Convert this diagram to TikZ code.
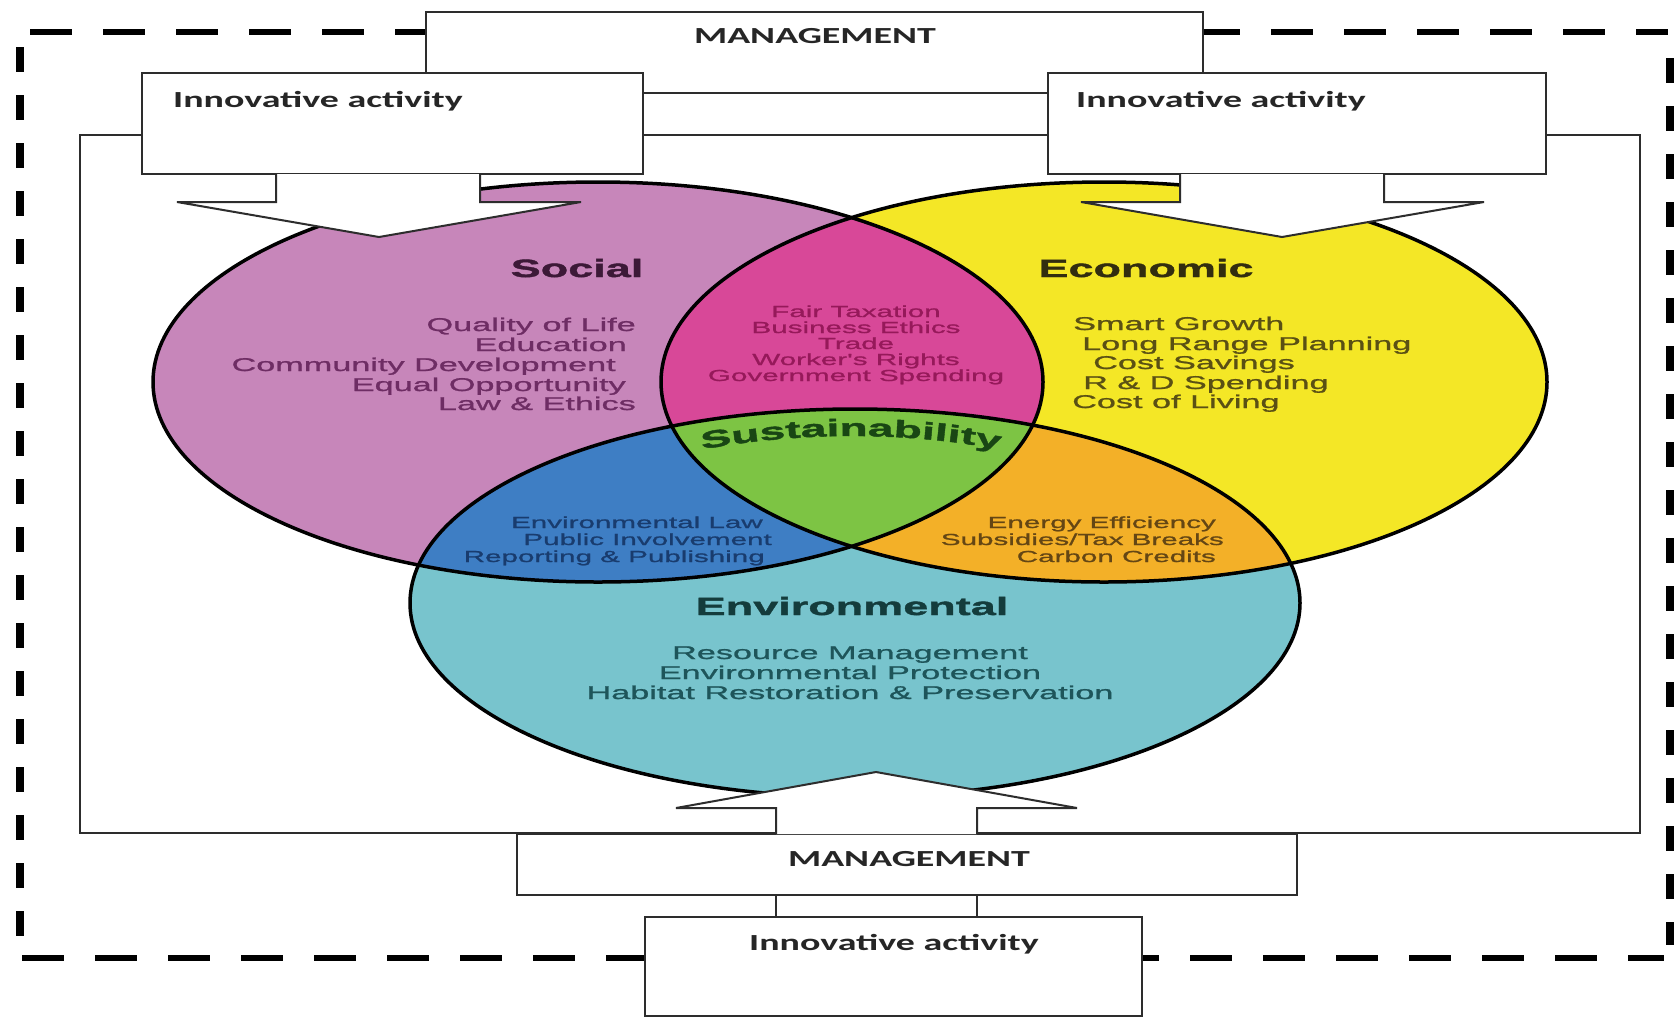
\documentclass[tikz,border=0pt]{standalone}
\usepackage{fontspec}
\usepackage{graphicx}
\usetikzlibrary{decorations.text,calc}
\newfontfamily\boxfont[FakeStretch=1.65]{Carlito}
\newfontfamily\vennfont[FakeStretch=1.85,FakeBold=1.2]{Liberation Sans}
\newfontfamily\titlefont[FakeStretch=1.8,FakeBold=1.5]{Liberation Sans}
\newfontfamily\sustfont[FakeStretch=1.92,FakeBold=1.8]{Liberation Sans}
\definecolor{boxgray}{RGB}{45,45,45}
\definecolor{socialc}{RGB}{199,134,186}
\definecolor{econc}{RGB}{244,231,38}
\definecolor{envc}{RGB}{120,196,205}
\definecolor{magentac}{RGB}{216,72,152}
\definecolor{bluec}{RGB}{62,126,196}
\definecolor{orangec}{RGB}{243,176,40}
\definecolor{greenc}{RGB}{125,196,68}
\definecolor{socT}{RGB}{60,25,55}
\definecolor{socI}{RGB}{110,45,100}
\definecolor{ecoT}{RGB}{50,45,15}
\definecolor{ecoI}{RGB}{90,80,20}
\definecolor{magI}{RGB}{150,25,90}
\definecolor{bluI}{RGB}{25,60,110}
\definecolor{oraI}{RGB}{100,70,20}
\definecolor{envT}{RGB}{20,60,60}
\definecolor{envI}{RGB}{30,85,90}
\definecolor{sustc}{RGB}{25,70,20}
\tikzset{
  box/.style={draw=boxgray, line width=2pt, fill=white, inner sep=0pt, outer sep=0pt, anchor=north west},
  boxlabel/.style={font=\boxfont\bfseries\fontsize{23}{23}\selectfont, text=black!85, inner sep=0pt},
  vtitle/.style={font=\titlefont\bfseries\fontsize{25}{25}\selectfont, inner sep=0pt, anchor=base},
  vitem/.style={font=\vennfont\fontsize{18.5}{18.5}\selectfont, inner sep=0pt},
  vsmall/.style={font=\vennfont\fontsize{16}{16}\selectfont, inner sep=0pt},
  vout/.style={draw=black, line width=3.5pt},
  blockarrow/.style={draw=boxgray, line width=2pt, fill=white, line join=miter},
  hdash/.style={draw=black, line width=5.5pt, dash pattern=on 42pt off 31pt},
  vdash/.style={draw=black, line width=8pt, dash pattern=on 25pt off 23pt},
}
\begin{document}
\begin{tikzpicture}[x=1pt,y=-1pt]
\useasboundingbox (0,0) rectangle (1677,1018);
\fill[white] (0,0) rectangle (1677,1018);

% outer dashed frame
\draw[hdash] (30,32) -- (1668,32);
\draw[hdash] (22,958) -- (1664,958);
\draw[vdash] (20,47) -- (20,945);
\draw[vdash] (1670,58) -- (1670,945);

% inner frame
\draw[draw=boxgray, line width=2pt] (80,135) rectangle (1640,833);

% Venn fills
\fill[socialc] (598,382) ellipse [x radius=445pt, y radius=200pt];
\fill[econc] (1104,382) ellipse [x radius=443pt, y radius=200pt];
\fill[envc] (855,603) ellipse [x radius=445pt, y radius=194pt];
\begin{scope}
  \clip (1104,382) ellipse [x radius=443pt, y radius=200pt];
  \fill[orangec] (855,603) ellipse [x radius=445pt, y radius=194pt];
\end{scope}
\begin{scope}
  \clip (598,382) ellipse [x radius=445pt, y radius=200pt];
  \fill[magentac] (1104,382) ellipse [x radius=443pt, y radius=200pt];
  \fill[bluec] (855,603) ellipse [x radius=445pt, y radius=194pt];
  \clip (1104,382) ellipse [x radius=443pt, y radius=200pt];
  \fill[greenc] (855,603) ellipse [x radius=445pt, y radius=194pt];
\end{scope}
\draw[vout] (598,382) ellipse [x radius=445pt, y radius=200pt];
\draw[vout] (1104,382) ellipse [x radius=443pt, y radius=200pt];
\draw[vout] (855,603) ellipse [x radius=445pt, y radius=194pt];

% Social
\node[vtitle, text=socT] (socT) at (577,277) {Social};
\node[vitem, text=socI, anchor=base east] (s1) at (636,331) {Quality of Life};
\node[vitem, text=socI, anchor=base east] (s2) at (627,351) {Education};
\node[vitem, text=socI, anchor=base east] (s3) at (616,371) {Community Development};
\node[vitem, text=socI, anchor=base east] (s4) at (626,391) {Equal Opportunity};
\node[vitem, text=socI, anchor=base east] (s5) at (636,410) {Law \& Ethics};

% Economic
\node[vtitle, text=ecoT] (ecoT) at (1146,277) {Economic};
\node[vitem, text=ecoI, anchor=base west] (e1) at (1073,330) {Smart Growth};
\node[vitem, text=ecoI, anchor=base west] (e2) at (1082,350) {Long Range Planning};
\node[vitem, text=ecoI, anchor=base west] (e3) at (1093,369) {Cost Savings};
\node[vitem, text=ecoI, anchor=base west] (e4) at (1083,389) {R \& D Spending};
\node[vitem, text=ecoI, anchor=base west] (e5) at (1072,408) {Cost of Living};

% Social & Economic
\node[vsmall, text=magI, anchor=base] (m1) at (856,317) {Fair Taxation};
\node[vsmall, text=magI, anchor=base] (m2) at (856,333) {Business Ethics};
\node[vsmall, text=magI, anchor=base] (m3) at (856,349) {Trade};
\node[vsmall, text=magI, anchor=base] (m4) at (856,365) {Worker's Rights};
\node[vsmall, text=magI, anchor=base] (m5) at (856,381) {Government Spending};

% Social & Environmental
\node[vsmall, text=bluI, anchor=base east] (b1) at (763,528) {Environmental Law};
\node[vsmall, text=bluI, anchor=base east] (b2) at (772,545) {Public Involvement};
\node[vsmall, text=bluI, anchor=base east] (b3) at (765,562) {Reporting \& Publishing};

% Economic & Environmental
\node[vsmall, text=oraI, anchor=base east] (o1) at (1216,528) {Energy Efficiency};
\node[vsmall, text=oraI, anchor=base east] (o2) at (1224,545) {Subsidies/Tax Breaks};
\node[vsmall, text=oraI, anchor=base east] (o3) at (1216,562) {Carbon Credits};

% Environmental
\node[vtitle, text=envT] (envT) at (852,615) {Environmental};
\node[vitem, text=envI, anchor=base] (v1) at (850,659) {Resource Management};
\node[vitem, text=envI, anchor=base] (v2) at (850,679) {Environmental Protection};
\node[vitem, text=envI, anchor=base] (v3) at (850,699) {Habitat Restoration \& Preservation};

% Sustainability
\path[decorate, decoration={text along path, text color=sustc,
  text={|\sustfont\bfseries\fontsize{24}{24}\selectfont|Sustainability}, text align=center}]
  (694,451) .. controls (796,431) and (908,431) .. (1008,451);

% top boxes
\node[box, minimum width=777pt, minimum height=81pt] (mgmtT) at (426,12) {};
\node[boxlabel, anchor=base] (mgmtTl) at (815,43) {MANAGEMENT};
\node[box, minimum width=501pt, minimum height=101pt] (innovTL) at (142,73) {};
\node[boxlabel, anchor=base west] (innovTLl) at (173,107) {Innovative activity};
\node[box, minimum width=498pt, minimum height=101pt] (innovTR) at (1048,73) {};
\node[boxlabel, anchor=base west] (innovTRl) at (1076,107) {Innovative activity};

% top block arrows
\draw[blockarrow] (276,174) -- (276,202) -- (177,202) -- (379,237) -- (581,202) -- (480,202) -- (480,174);
\draw[blockarrow] (1180,174) -- (1180,202) -- (1081,202) -- (1282,237) -- (1484,202) -- (1384,202) -- (1384,174);

% bottom boxes
\node[box, minimum width=780pt, minimum height=61pt] (mgmtB) at (517,834) {};
\node[boxlabel, anchor=base] (mgmtBl) at (909,866) {MANAGEMENT};
\node[box, minimum width=497pt, minimum height=99pt] (innovB) at (645,917) {};
\node[boxlabel, anchor=base] (innovBl) at (894,950) {Innovative activity};

% bottom block arrow
\draw[blockarrow] (776,834) -- (776,808) -- (676,808) -- (876,772) -- (1077,808) -- (977,808) -- (977,834);
\draw[draw=boxgray, line width=2pt] (mgmtB.south -| 776,0) -- (innovB.north -| 776,0);
\draw[draw=boxgray, line width=2pt] (mgmtB.south -| 977,0) -- (innovB.north -| 977,0);
\end{tikzpicture}
\end{document}
